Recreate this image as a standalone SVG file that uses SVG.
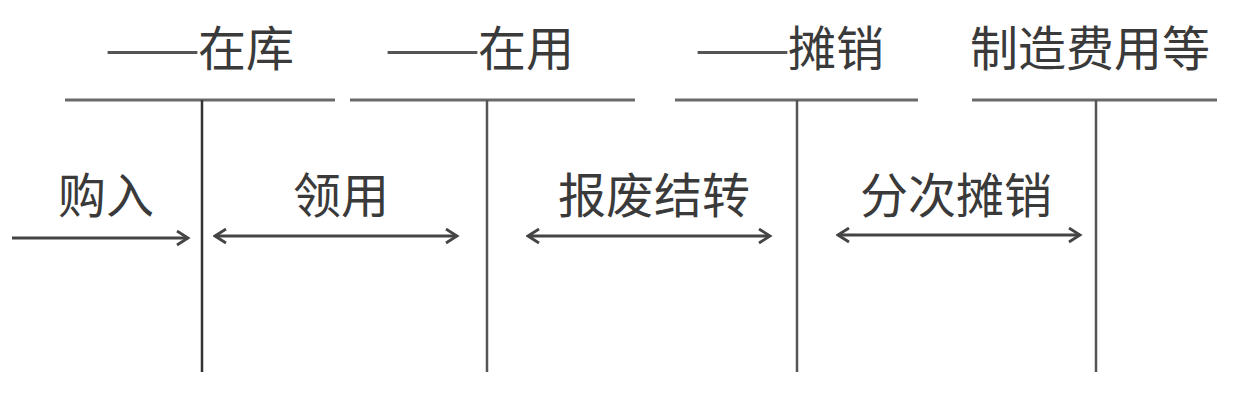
<svg xmlns="http://www.w3.org/2000/svg" width="1252" height="400" viewBox="0 0 1252 400">
<style>
.t{font-family:"Noto Sans CJK SC","Liberation Sans",sans-serif;font-size:48px;fill:#3a3a3a}
.d{font-family:"Noto Sans CJK SC","Liberation Sans",sans-serif;font-size:48px;fill:#555}
.h{stroke:#6a6a6a;stroke-width:3;fill:none}
.v{stroke:#555;stroke-width:2.5;fill:none}
.a{stroke:#444;stroke-width:2.8;fill:none}
</style>
<defs>
<marker id="ae" markerUnits="userSpaceOnUse" markerWidth="16" markerHeight="18" refX="13" refY="8" orient="auto">
<path d="M2,1 L13,8 L2,15" fill="none" stroke="#444" stroke-width="2.8"/>
</marker>
<marker id="as" markerUnits="userSpaceOnUse" markerWidth="16" markerHeight="18" refX="2" refY="8" orient="auto">
<path d="M13,1 L2,8 L13,15" fill="none" stroke="#444" stroke-width="2.8"/>
</marker>
</defs>
<g id="account-stock">
<text class="d" x="105" y="66" textLength="95" lengthAdjust="spacingAndGlyphs">——</text>
<text class="t" x="198" y="66">在库</text>
<line class="h" x1="65" y1="100" x2="335" y2="100"/>
<line class="v" x1="202" y1="100" x2="202" y2="372" style="stroke:#333"/>
</g>
<g id="account-inuse">
<text class="d" x="385" y="66" textLength="95" lengthAdjust="spacingAndGlyphs">——</text>
<text class="t" x="478" y="66">在用</text>
<line class="h" x1="350" y1="100" x2="635" y2="100"/>
<line class="v" x1="487" y1="100" x2="487" y2="372"/>
</g>
<g id="account-amort">
<text class="d" x="695" y="66" textLength="95" lengthAdjust="spacingAndGlyphs">——</text>
<text class="t" x="788" y="66">摊销</text>
<line class="h" x1="675" y1="100" x2="918" y2="100"/>
<line class="v" x1="797" y1="100" x2="797" y2="372"/>
</g>
<g id="account-cost">
<text class="t" x="970" y="66">制造费用等</text>
<line class="h" x1="972" y1="100" x2="1217" y2="100"/>
<line class="v" x1="1096" y1="100" x2="1096" y2="372"/>
</g>
<g id="connectors">
<line class="a" x1="12" y1="238" x2="188" y2="238" marker-end="url(#ae)"/>
<line class="a" x1="215" y1="236" x2="457" y2="236" marker-start="url(#as)" marker-end="url(#ae)"/>
<line class="a" x1="528" y1="236" x2="770" y2="236" marker-start="url(#as)" marker-end="url(#ae)"/>
<line class="a" x1="838" y1="235" x2="1080" y2="235" marker-start="url(#as)" marker-end="url(#ae)"/>
<text class="t" x="58" y="213">购入</text>
<text class="t" x="293" y="213">领用</text>
<text class="t" x="558" y="213">报废结转</text>
<text class="t" x="860" y="213">分次摊销</text>
</g>
</svg>
